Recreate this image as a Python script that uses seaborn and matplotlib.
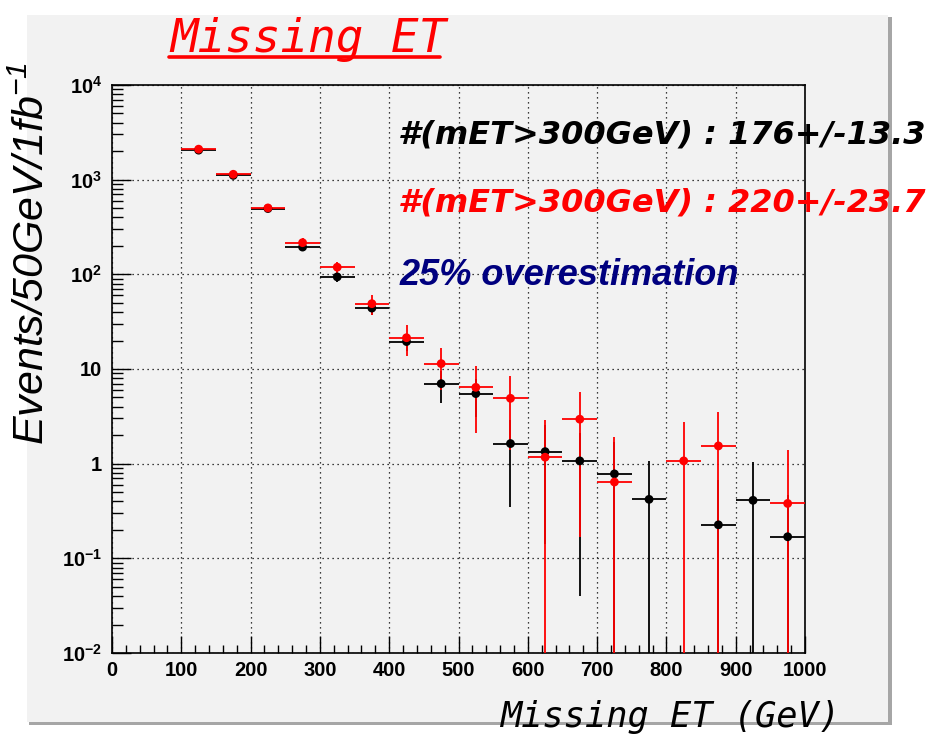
import numpy as np
import pandas as pd
import matplotlib
matplotlib.use("Agg")
import matplotlib.pyplot as plt
import seaborn as sns
from matplotlib.patches import Rectangle
from matplotlib.lines import Line2D
from matplotlib.ticker import FixedLocator, LogLocator, MultipleLocator, NullFormatter

# Missing ET spectrum, 50 GeV bins, normalised to 1 fb^-1
bin_centers = [125, 175, 225, 275, 325, 375, 425, 475, 525,
               575, 625, 675, 725, 775, 825, 875, 925, 975]
bin_half_width = 25

# black: reference sample
ref_events = [2050, 1110, 495, 194, 94, 44, 19.5, 7.0, 5.5,
              1.63, 1.34, 1.07, 0.78, 0.42, np.nan, 0.226, 0.41, 0.169]
ref_errors = [45, 33, 22, 14, 10, 6.5, 4.0, 2.6, 2.4,
              1.28, 1.2, 1.03, 0.9, 0.65, np.nan, 0.45, 0.64, 0.3]

# red: estimate
est_events = [2100, 1140, 503, 216, 119, 49, 21.4, 11.4, 6.4,
              4.9, 1.17, 2.95, 0.64, np.nan, 1.07, 1.54, np.nan, 0.38]
est_errors = [120, 80, 40, 24, 16, 12, 7.8, 5.4, 4.3,
              3.5, 1.73, 2.78, 1.28, np.nan, 1.71, 2.01, np.nan, 1.02]

y_tick_values = [1e-2, 1e-1, 1, 10, 1e2, 1e3, 1e4]
y_tick_labels = [r"$\mathdefault{10^{-2}}$", r"$\mathdefault{10^{-1}}$", "1", "10",
                 r"$\mathdefault{10^{2}}$", r"$\mathdefault{10^{3}}$", r"$\mathdefault{10^{4}}$"]
x_tick_values = [0, 100, 200, 300, 400, 500, 600, 700, 800, 900, 1000]

title_text = "Missing ET"
x_label = "Missing ET (GeV)"
y_label = r"Events/50GeV/1fb$^{\mathdefault{-1}}$"
ref_summary = "#(mET>300GeV) : 176+/-13.3"
est_summary = "#(mET>300GeV) : 220+/-23.7"
comment_text = "25% overestimation"

sns.set_theme(style="white")
plt.rcParams["font.family"] = ["Liberation Sans", "DejaVu Sans"]

W, H = 937, 739
fig = plt.figure(figsize=(W / 100, H / 100), dpi=100, facecolor="white")

canvas_col = "#f2f2f2"
# canvas with shadow edge
fig.add_artist(Rectangle((29 / W, 1 - 725 / H), (890 - 27) / W, (725 - 17) / H,
                         transform=fig.transFigure, facecolor="#a6a6a6",
                         edgecolor="none", zorder=-3))
fig.add_artist(Rectangle((27 / W, 1 - 722 / H), (888 - 27) / W, (722 - 15) / H,
                         transform=fig.transFigure, facecolor=canvas_col,
                         edgecolor="none", zorder=-2))

ax = fig.add_axes([112 / W, 1 - 653 / H, (805 - 112) / W, (653 - 85) / H])
ax.set_facecolor(canvas_col)

df = pd.DataFrame({
    "met": bin_centers * 2,
    "events": ref_events + est_events,
    "err": ref_errors + est_errors,
    "sample": ["ref"] * len(bin_centers) + ["est"] * len(bin_centers),
})

palette = {"ref": "#000000", "est": "#ff0000"}
for name, z in (("ref", 3), ("est", 5)):
    sub = df[df["sample"] == name].dropna()
    ax.errorbar(sub["met"], sub["events"], xerr=bin_half_width, yerr=sub["err"],
                fmt="none", ecolor=palette[name], elinewidth=1.3, capsize=0,
                zorder=z)
sns.scatterplot(data=df.dropna(), x="met", y="events", hue="sample",
                hue_order=["ref", "est"], palette=palette, s=40, marker="o",
                edgecolor="none", legend=False, ax=ax, zorder=6)

ax.set_yscale("log")
ax.set_xlim(0, 1000)
ax.set_ylim(1e-2, 1e4)
ax.set_xlabel("")
ax.set_ylabel("")

ax.xaxis.set_major_locator(FixedLocator(x_tick_values))
ax.xaxis.set_minor_locator(MultipleLocator(20))
ax.set_yticks(y_tick_values)
ax.set_yticklabels(y_tick_labels)
ax.yaxis.set_minor_locator(LogLocator(base=10, subs=np.arange(2, 10)))
ax.yaxis.set_minor_formatter(NullFormatter())

ax.tick_params(axis="both", which="both", direction="in", color="black",
               width=1.0, bottom=True, left=True, top=False, right=False)
ax.tick_params(axis="x", which="major", length=12, pad=6)
ax.tick_params(axis="x", which="minor", length=5.5)
ax.tick_params(axis="y", which="major", length=14, pad=7)
ax.tick_params(axis="y", which="minor", length=8)
for lab in ax.get_xticklabels() + ax.get_yticklabels():
    lab.set_fontweight("bold")
    lab.set_fontsize(14.5)
    lab.set_color("black")

ax.grid(True, which="major", color="black", linestyle=(0, (1, 3)), linewidth=0.9)
ax.set_axisbelow(True)
for sp in ax.spines.values():
    sp.set_color("black")
    sp.set_linewidth(1.2)
    sp.set_visible(True)

mono = ["DejaVu Sans Mono"]
fig.text(170 / W, 1 - 52 / H, title_text, color="#ff0000", fontsize=33,
         family=mono, style="oblique", ha="left", va="baseline")
fig.add_artist(Line2D([169 / W, 440 / W], [1 - 57 / H, 1 - 57 / H],
                      transform=fig.transFigure, color="#ff0000", linewidth=2.6))

fig.text(840 / W, 1 - 727 / H, x_label, color="black", fontsize=25.5,
         family=mono, style="oblique", ha="right", va="baseline")
fig.text(33 / W, 1 - 253 / H, y_label, color="black", fontsize=31,
         style="italic", rotation=90, ha="center", va="center")

summary_font = ["DejaVu Sans"]
fig.text(398 / W, 1 - 143 / H, ref_summary, color="black", fontsize=23,
         family=summary_font, style="oblique", weight="bold",
         ha="left", va="baseline")
fig.text(398 / W, 1 - 212 / H, est_summary, color="#ff0000", fontsize=23,
         family=summary_font, style="oblique", weight="bold",
         ha="left", va="baseline")
fig.text(400 / W, 1 - 285 / H, comment_text, color="#00007f", fontsize=26,
         style="italic", weight="bold", ha="left", va="baseline")

fig.savefig("out.png", dpi=100, facecolor="white")
